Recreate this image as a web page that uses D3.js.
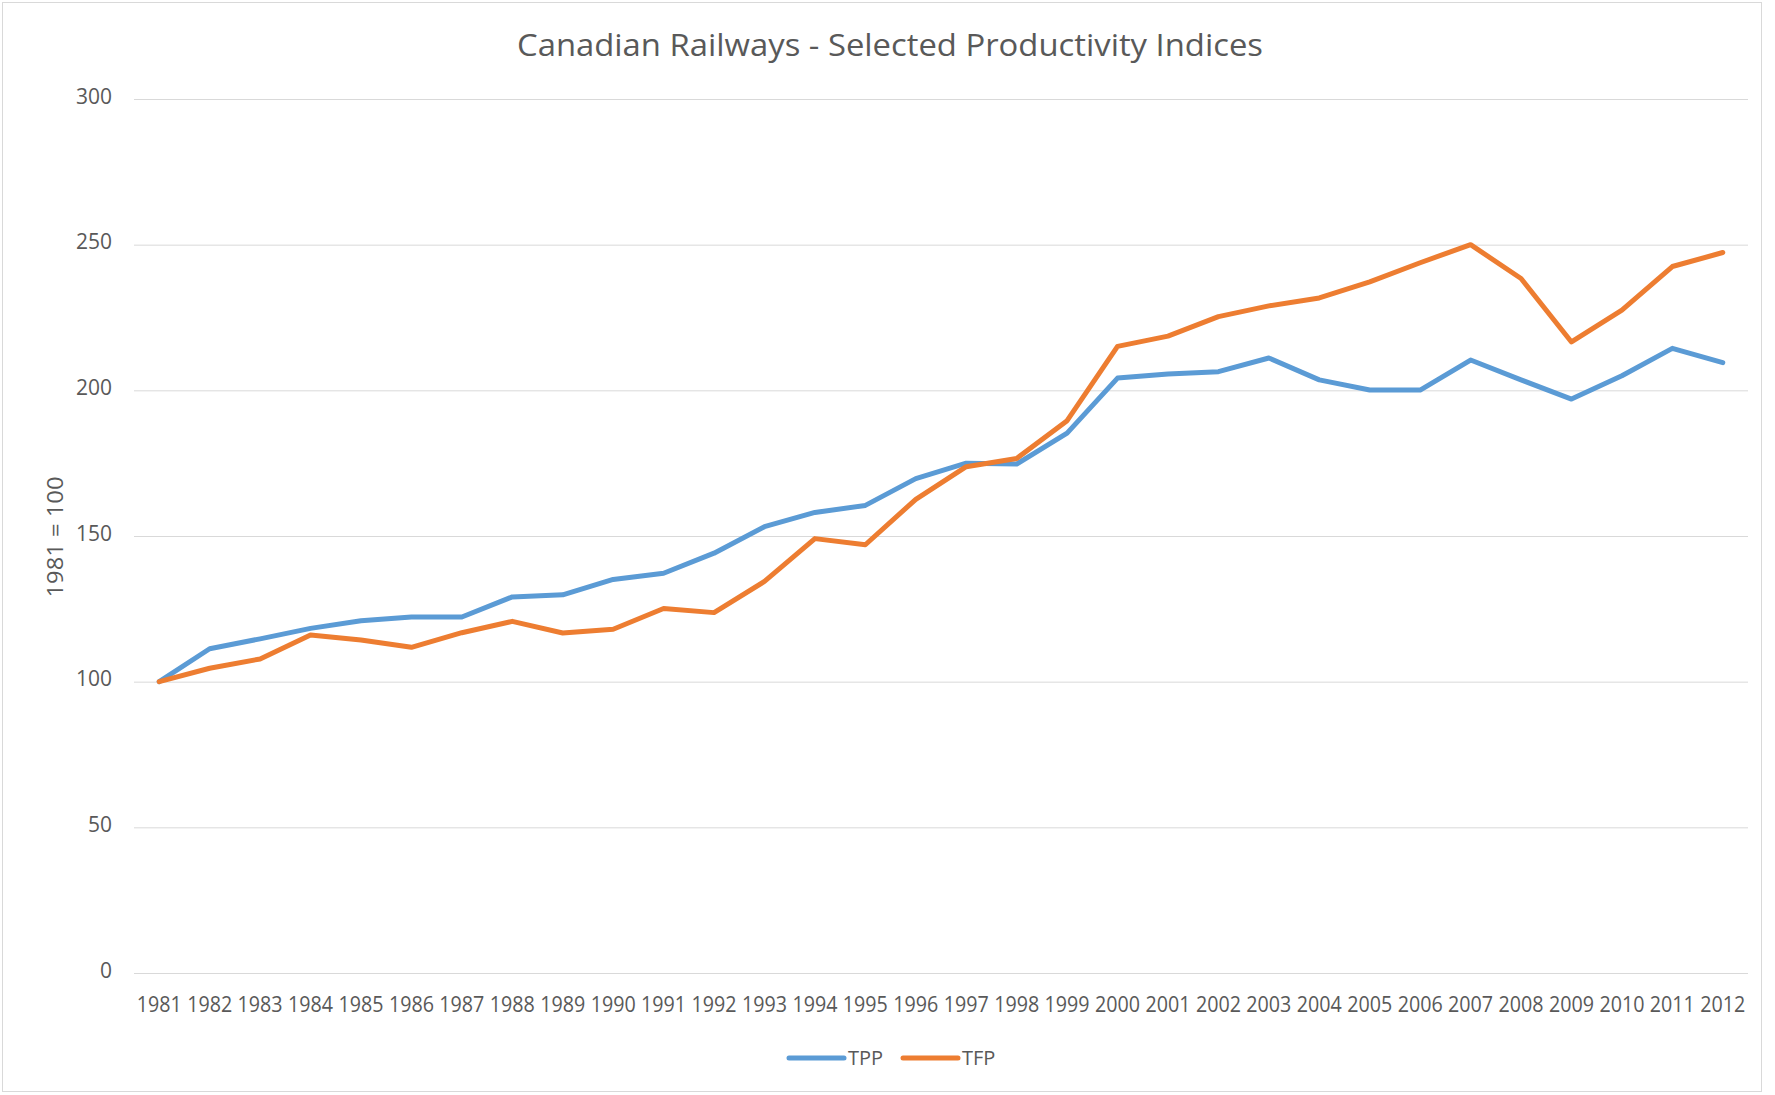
<!DOCTYPE html>
<html>
<head>
<meta charset="utf-8">
<script src="https://cdn.jsdelivr.net/npm/d3@7"></script>
<style>
  body { margin: 0; background: #fff; }
  text { font-family: "Open Sans", "Liberation Sans", sans-serif; fill: #595959; }
</style>
</head>
<body>
<div class="chart"></div>
<script>
// Canadian Railways - Selected Productivity Indices

var years = ["1981","1982","1983","1984","1985","1986","1987","1988","1989","1990",
  "1991","1992","1993","1994","1995","1996","1997","1998","1999","2000",
  "2001","2002","2003","2004","2005","2006","2007","2008","2009","2010","2011","2012"];

var tppValues = [100, 111.3, 114.7, 118.3, 120.9, 122.2, 122.2, 129.1, 129.8, 135.1,
  137.2, 144.1, 153.2, 158.1, 160.5, 169.7, 175.0, 174.7, 185.3, 204.2,
  205.6, 206.4, 211.1, 203.6, 200.1, 200.1, 210.4, 203.6, 197.0, 205.0, 214.4, 209.5];

var tfpValues = [100, 104.6, 107.8, 116.0, 114.3, 111.8, 116.8, 120.7, 116.7, 118.0,
  125.1, 123.7, 134.4, 149.1, 147.0, 162.6, 173.8, 176.6, 189.6, 215.1,
  218.6, 225.3, 229.0, 231.7, 237.2, 243.8, 250.0, 238.4, 216.6, 227.5, 242.5, 247.3];

var yTicks = [0, 50, 100, 150, 200, 250, 300];

var series = [
  { name: "TPP", values: tppValues, color: "#5b9bd5" },
  { name: "TFP", values: tfpValues, color: "#ed7d31" }
];

var svgWidth = 1775;
var svgHeight = 1095;

var plot = { left: 134, right: 1748, top: 99, bottom: 973 };

var svg = d3.select(".chart")
  .append("svg")
  .attr("width", svgWidth)
  .attr("height", svgHeight);

// chart area border
svg.append("rect")
  .attr("x", 2.5)
  .attr("y", 2.5)
  .attr("width", 1759)
  .attr("height", 1089)
  .attr("fill", "#fff")
  .attr("stroke", "#d9d9d9");

// title
svg.append("text")
  .attr("x", 890)
  .attr("y", 56)
  .attr("text-anchor", "middle")
  .attr("font-size", "31px")
  .attr("textLength", 746)
  .attr("lengthAdjust", "spacingAndGlyphs")
  .text("Canadian Railways - Selected Productivity Indices");

// scales
var xScale = d3.scaleBand()
  .domain(years)
  .range([plot.left, plot.right])
  .padding(0);

var yScale = d3.scaleLinear()
  .domain([0, 300])
  .range([plot.bottom, plot.top]);

// y axis with gridlines
var leftAxis = d3.axisLeft(yScale)
  .tickValues(yTicks)
  .tickSizeInner(-(plot.right - plot.left))
  .tickSizeOuter(0)
  .tickPadding(22);

var yAxis = svg.append("g")
  .attr("transform", `translate(${plot.left}, 0)`)
  .call(leftAxis);

yAxis.select(".domain").remove();
yAxis.selectAll(".tick line")
  .attr("stroke", "#d9d9d9")
  .attr("stroke-width", 1);
yAxis.selectAll(".tick text")
  .attr("dy", 4)
  .attr("font-size", "21px")
  .attr("fill", "#595959")
  .attr("font-family", "Open Sans, sans-serif");

// x axis labels
var bottomAxis = d3.axisBottom(xScale)
  .tickSize(0)
  .tickPadding(0);

var xAxis = svg.append("g")
  .attr("transform", `translate(0, ${plot.bottom})`)
  .call(bottomAxis);

xAxis.select(".domain").remove();
xAxis.selectAll(".tick text")
  .attr("y", 39)
  .attr("dy", 0)
  .attr("font-size", "22px")
  .attr("fill", "#595959")
  .attr("font-family", "Open Sans, sans-serif")
  .attr("textLength", 45)
  .attr("lengthAdjust", "spacingAndGlyphs");

// y axis title
svg.append("text")
  .attr("transform", "translate(63, 537) rotate(-90)")
  .attr("text-anchor", "middle")
  .attr("font-size", "22px")
  .attr("textLength", 121)
  .attr("lengthAdjust", "spacingAndGlyphs")
  .text("1981 = 100");

// lines
var line = d3.line()
  .x((d, i) => xScale(years[i]) + xScale.bandwidth() / 2)
  .y(d => yScale(d));

svg.append("g")
  .selectAll("path")
  .data(series)
  .enter()
  .append("path")
  .attr("d", d => line(d.values))
  .attr("fill", "none")
  .attr("stroke", d => d.color)
  .attr("stroke-width", 5)
  .attr("stroke-linejoin", "round")
  .attr("stroke-linecap", "round");

// legend
var legendItems = [
  { x: 789, textX: 848 },
  { x: 903, textX: 962 }
];

var legend = svg.append("g");

series.forEach(function(s, i) {
  legend.append("line")
    .attr("x1", legendItems[i].x)
    .attr("x2", legendItems[i].x + 55)
    .attr("y1", 1058)
    .attr("y2", 1058)
    .attr("stroke", s.color)
    .attr("stroke-width", 5)
    .attr("stroke-linecap", "round");
  legend.append("text")
    .attr("x", legendItems[i].textX)
    .attr("y", 1065)
    .attr("font-size", "20px")
    .text(s.name);
});
</script>
</body>
</html>
